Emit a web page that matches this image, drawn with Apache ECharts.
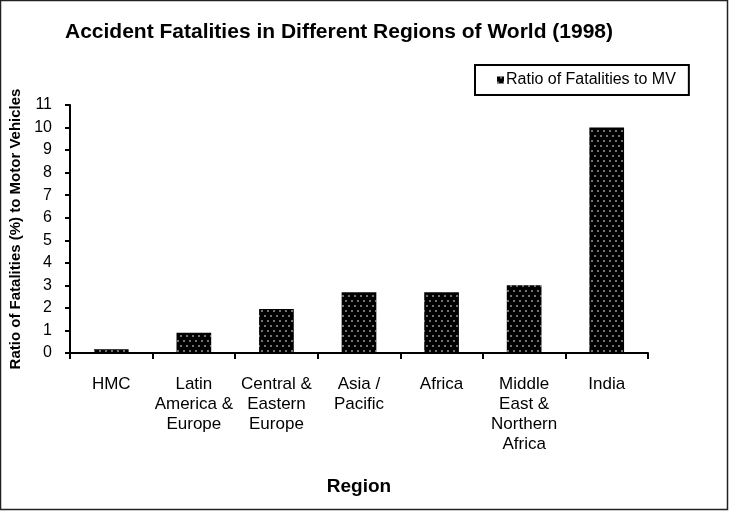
<!DOCTYPE html>
<html><head><meta charset="utf-8">
<script src="https://cdn.jsdelivr.net/npm/echarts@6/dist/echarts.min.js"></script>
<style>html,body{margin:0;padding:0;background:#fff}#c{width:729px;height:511px}</style>
</head><body><div id="c"></div>
<script>
const categories = ["HMC", "Latin\nAmerica &\nEurope", "Central &\nEastern\nEurope", "Asia /\nPacific", "Africa", "Middle\nEast &\nNorthern\nAfrica", "India"];
const ratioValues = [0.17, 0.9, 1.95, 2.7, 2.7, 3.0, 10.0];
const seriesName = "Ratio of Fatalities to MV";
const titleText = "Accident Fatalities in Different Regions of World (1998)";
const yAxisName = "Ratio of Fatalities (%) to Motor Vehicles";
const xAxisName = "Region";

const chart = echarts.init(document.getElementById('c'), null, {renderer: 'canvas'});
const font = 'Liberation Sans, Arial, sans-serif';
const decal = {symbol: 'rect', symbolSize: 0.8, color: 'rgba(255,255,255,0.75)', dashArrayX: [[1.5, 3.5], [0, 2.5, 1.5, 1]], dashArrayY: [1.5, 2.5], rotation: 0};
chart.setOption({
  animation: false,
  backgroundColor: '#fff',
  textStyle: {fontFamily: font},
  title: {text: titleText, left: 60, top: 17, textStyle: {fontSize: 21, fontWeight: 'bold', color: '#000', fontFamily: font}},
  legend: {
    data: [{name: seriesName, icon: 'rect'}],
    left: 475, top: 65,
    itemWidth: 7, itemHeight: 7, itemGap: 2,
    padding: [7, 13, 7, 22],
    borderColor: '#000', borderWidth: 2,
    textStyle: {fontSize: 16, color: '#000', fontFamily: font, padding: [0, 0, 0, -3]}
  },
  grid: {left: 70, right: 81, top: 105, bottom: 158, outerBoundsMode: 'none', containLabel: false},
  xAxis: {
    type: 'category', data: categories,
    name: xAxisName, nameLocation: 'middle', nameGap: 124,
    nameTextStyle: {fontSize: 19, fontWeight: 'bold', color: '#000', fontFamily: font},
    axisLine: {lineStyle: {color: '#000', width: 2}},
    axisTick: {show: true, length: 6, lineStyle: {color: '#000', width: 2}, alignWithLabel: false},
    axisLabel: {color: '#000', fontSize: 17, lineHeight: 20, margin: 21, interval: 0, fontFamily: font}
  },
  yAxis: {
    type: 'value', min: 0, max: 11, interval: 1,
    name: yAxisName, nameLocation: 'middle', nameGap: 47, nameRotate: 90,
    nameTextStyle: {fontSize: 15, fontWeight: 'bold', color: '#000', fontFamily: font},
    axisLine: {show: true, lineStyle: {color: '#000', width: 2}},
    axisTick: {show: true, inside: false, length: 5, lineStyle: {color: '#000', width: 2}},
    splitLine: {show: false},
    axisLabel: {color: '#000', fontSize: 16, margin: 18, fontFamily: font}
  },
  series: [{
    name: seriesName, type: 'bar', data: ratioValues, barWidth: '42%',
    itemStyle: {color: '#000', decal: decal}
  }],
  graphic: [{type: 'rect', shape: {x: 0.5, y: 0.5, width: 727, height: 509}, style: {fill: 'none', stroke: '#222', lineWidth: 1.5}, silent: true}]
});
</script></body></html>
